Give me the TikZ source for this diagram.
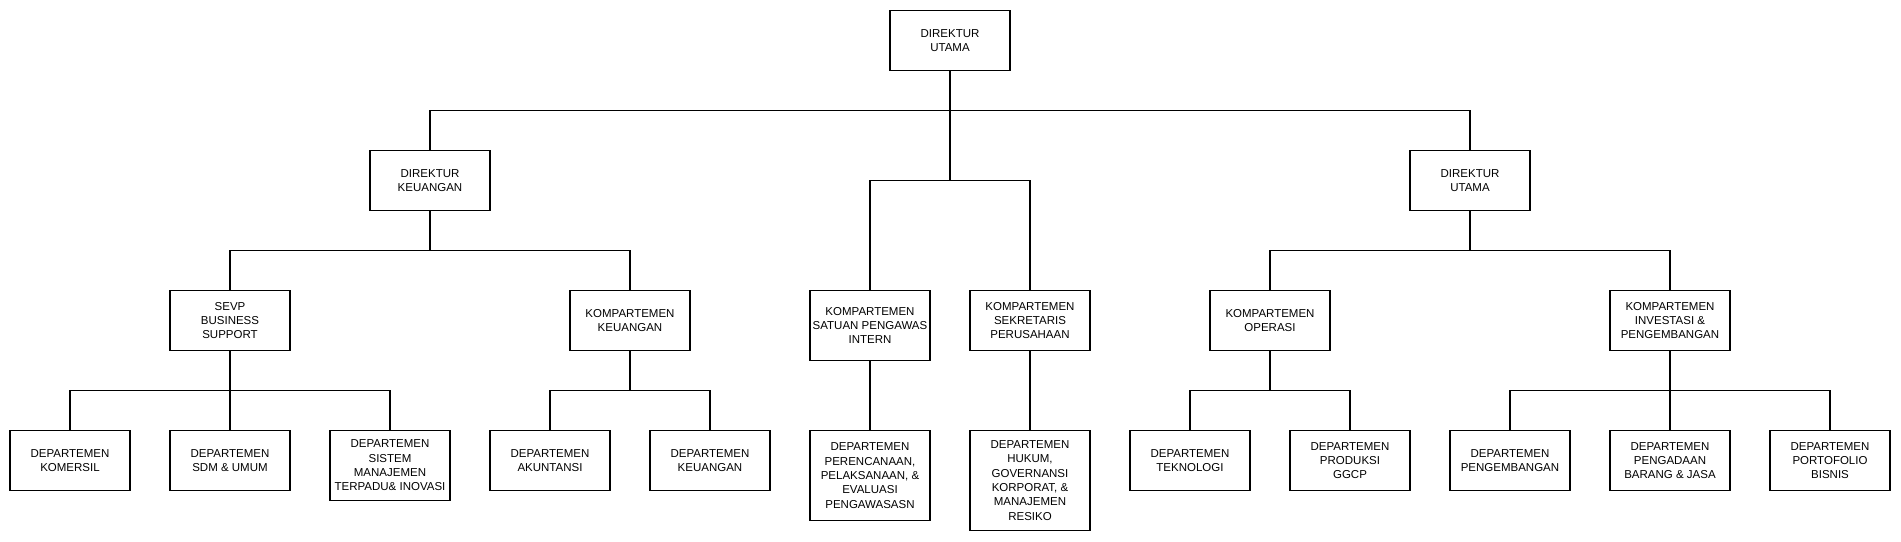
\documentclass[tikz,border=0pt]{standalone}
\usepackage{fontspec}
\setmainfont{Liberation Sans}
\usepackage{tikz}
\usetikzlibrary{positioning}
\tikzstyle{orgbox}=[
    draw=black,     % draw the border in black
    rectangle,      % the shape of the node is a rectangle
    fill=white,     % plain white box
    minimum width=120pt,
    minimum height=60pt,
    inner sep=2pt,
    outer sep=0pt,
    align=center,
    font=\fontsize{11.5}{14.3}\selectfont]
\tikzstyle{link}=[
    draw=black]     % plain connector, no arrow tip

\begin{document}
\begin{tikzpicture}[x=1pt, y=1pt, line width=1.2pt, node distance=80pt]
        \useasboundingbox (0,0) rectangle (1901,-541);

        % Draw the boxes.
        \node[orgbox, anchor=north] (dirut) at (950,-10.5) {DIREKTUR\\UTAMA};
        \node[orgbox, below=of dirut, xshift=-520pt] (dirkeu) {DIREKTUR\\KEUANGAN};
        \node[orgbox, below=of dirut, xshift=520pt] (dirutb) {DIREKTUR\\UTAMA};
        \node[orgbox, below=220pt of dirut, xshift=-80pt, minimum height=70pt] (spi) {KOMPARTEMEN\\SATUAN PENGAWAS\\INTERN};
        \node[orgbox, below=220pt of dirut, xshift=80pt] (sekper) {KOMPARTEMEN\\SEKRETARIS\\PERUSAHAAN};
        \node[orgbox, below=of dirkeu, xshift=-200pt] (sevp) {SEVP\\BUSINESS\\SUPPORT};
        \node[orgbox, below=of dirkeu, xshift=200pt] (kompkeu) {KOMPARTEMEN\\KEUANGAN};
        \node[orgbox, below=of dirutb, xshift=-200pt] (operasi) {KOMPARTEMEN\\OPERASI};
        \node[orgbox, below=of dirutb, xshift=200pt] (invest) {KOMPARTEMEN\\INVESTASI \&\\PENGEMBANGAN};

        \node[orgbox, below=of sevp, xshift=-160pt] (komersil) {DEPARTEMEN\\KOMERSIL};
        \node[orgbox, below=of sevp] (sdm) {DEPARTEMEN\\SDM \& UMUM};
        \node[orgbox, below=of sevp, xshift=160pt, minimum height=70pt] (smti) {DEPARTEMEN\\SISTEM\\MANAJEMEN\\TERPADU\& INOVASI};
        \node[orgbox, below=of kompkeu, xshift=-80pt] (akun) {DEPARTEMEN\\AKUNTANSI};
        \node[orgbox, below=of kompkeu, xshift=80pt] (depkeu) {DEPARTEMEN\\KEUANGAN};
        \node[orgbox, below=70pt of spi, minimum height=90pt] (renev) {DEPARTEMEN\\PERENCANAAN,\\PELAKSANAAN, \&\\EVALUASI\\PENGAWASASN};
        \node[orgbox, below=of sekper, minimum height=100pt] (hukum) {DEPARTEMEN\\HUKUM,\\GOVERNANSI\\KORPORAT, \&\\MANAJEMEN\\RESIKO};
        \node[orgbox, below=of operasi, xshift=-80pt] (tekno) {DEPARTEMEN\\TEKNOLOGI};
        \node[orgbox, below=of operasi, xshift=80pt] (ggcp) {DEPARTEMEN\\PRODUKSI\\GGCP};
        \node[orgbox, below=of invest, xshift=-160pt] (bangun) {DEPARTEMEN\\PENGEMBANGAN};
        \node[orgbox, below=of invest] (pbj) {DEPARTEMEN\\PENGADAAN\\BARANG \& JASA};
        \node[orgbox, below=of invest, xshift=160pt] (porto) {DEPARTEMEN\\PORTOFOLIO\\BISNIS};

        % Connect boxes with lines
        \draw[link] (dirut.south) -- ++(0,-40) -| (dirkeu.north);
        \draw[link] (dirut.south) -- ++(0,-40) -| (dirutb.north);
        \draw[link] (dirut.south) -- ++(0,-110) -| (spi.north);
        \draw[link] (dirut.south) -- ++(0,-110) -| (sekper.north);
        \draw[link] (dirkeu.south) -- ++(0,-40) -| (sevp.north);
        \draw[link] (dirkeu.south) -- ++(0,-40) -| (kompkeu.north);
        \draw[link] (dirutb.south) -- ++(0,-40) -| (operasi.north);
        \draw[link] (dirutb.south) -- ++(0,-40) -| (invest.north);
        \draw[link] (sevp.south) -- ++(0,-40) -| (komersil.north);
        \draw[link] (sevp.south) -- (sdm.north);
        \draw[link] (sevp.south) -- ++(0,-40) -| (smti.north);
        \draw[link] (kompkeu.south) -- ++(0,-40) -| (akun.north);
        \draw[link] (kompkeu.south) -- ++(0,-40) -| (depkeu.north);
        \draw[link] (spi.south) -- (renev.north);
        \draw[link] (sekper.south) -- (hukum.north);
        \draw[link] (operasi.south) -- ++(0,-40) -| (tekno.north);
        \draw[link] (operasi.south) -- ++(0,-40) -| (ggcp.north);
        \draw[link] (invest.south) -- ++(0,-40) -| (bangun.north);
        \draw[link] (invest.south) -- (pbj.north);
        \draw[link] (invest.south) -- ++(0,-40) -| (porto.north);
\end{tikzpicture}
\end{document}
